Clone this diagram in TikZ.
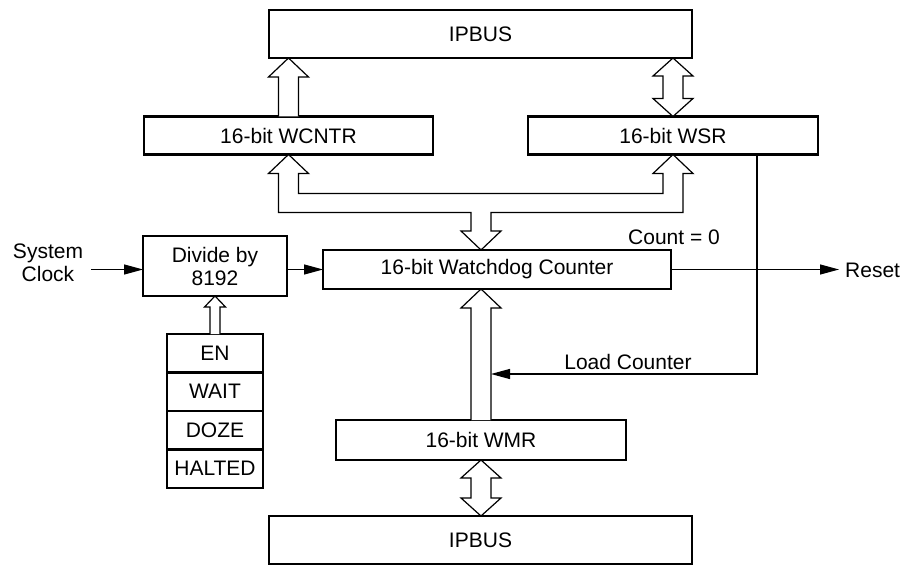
\documentclass[tikz,border=0pt]{standalone}
\usepackage{fontspec}
\setmainfont{Liberation Sans}
\usetikzlibrary{arrows.meta,calc}
\newcommand\hollowup[5]{% #1 base, #2 tip, #3 shaft half, #4 head half, #5 head length
  \draw[hollow] let \p1=(#1),\p2=(#2) in
    (\x1-#3pt,\y1) -- (\x1-#3pt,\y2-#5pt) -- (\x1-#4pt,\y2-#5pt) -- (\x1,\y2)
    -- (\x1+#4pt,\y2-#5pt) -- (\x1+#3pt,\y2-#5pt) -- (\x1+#3pt,\y1);}
\newcommand\hollowboth[5]{% #1 lower tip, #2 upper tip
  \draw[hollow] let \p1=(#1),\p2=(#2) in
    (\x1,\y1) -- (\x1-#4pt,\y1+#5pt) -- (\x1-#3pt,\y1+#5pt) -- (\x1-#3pt,\y2-#5pt)
    -- (\x1-#4pt,\y2-#5pt) -- (\x1,\y2) -- (\x1+#4pt,\y2-#5pt) -- (\x1+#3pt,\y2-#5pt)
    -- (\x1+#3pt,\y1+#5pt) -- (\x1+#4pt,\y1+#5pt) -- cycle;}
\begin{document}
\begin{tikzpicture}[x=1pt,y=-1pt,
  txt/.style={font=\fontsize{21}{23}\selectfont},
  box/.style={txt,draw,line width=2.4pt,inner sep=0pt,outer sep=0pt,minimum width=#1},
  hollow/.style={draw,line width=1.2pt,line join=miter,fill=white},
  arr/.style={line width=1.2pt,-{Triangle[length=19pt,width=10pt]}}]
\useasboundingbox (0,0) rectangle (906,567);
% boxes
\node[box=423,minimum height=48] (ipt) at (480.5,34) {IPBUS};
\node[box=289,minimum height=38] (wcntr) at (288.5,135.5) {16-bit WCNTR};
\node[box=290,minimum height=38] (wsr) at (673,135.5) {16-bit WSR};
\node[box=348,minimum height=39] (wd) at (497,269.5) {16-bit Watchdog Counter};
\node[box=144,minimum height=60,align=center] (div) at (215,266) {Divide by\\8192};
\node[box=96,minimum height=38.5] (en) at (215,353.25) {EN};
\node[box=96,minimum height=38.5] (wait) at (215,391.75) {WAIT};
\node[box=96,minimum height=38.5] (doze) at (215,430.25) {DOZE};
\node[box=96,minimum height=38.5] (halted) at (215,468.75) {HALTED};
\node[box=290,minimum height=40] (wmr) at (481,440) {16-bit WMR};
\node[box=423,minimum height=48] (ipb) at (480.5,540) {IPBUS};
% labels
\node[txt,align=center,inner sep=0pt,inner xsep=8pt] (sc) at (48,263) {System\\Clock};
\node[txt,inner sep=0pt] (cnt) at (674,237) {Count = 0};
\node[txt,inner sep=0pt] (lc) at (628,362) {Load Counter};
\node[txt,anchor=west,inner sep=0pt,inner xsep=6pt] (rst) at (839,270) {Reset};
\coordinate (lcturn) at (757,374);
\coordinate (lcend) at (491,374);
% hollow arrows
\hollowup{wcntr.north}{wcntr.north |- ipt.south}{10}{20}{19}
\hollowboth{wsr.north}{wsr.north |- ipt.south}{10}{20}{18}
\hollowboth{ipb.north -| wmr.south}{wmr.south}{10}{20}{18}
\hollowup{wmr.north}{wmr.north |- wd.south}{10}{20}{19}
\hollowup{en.north}{div.south}{5}{10.5}{11}
\draw[hollow] let \p1=(wcntr.south), \p2=(wsr.south), \p3=(wmr.north |- wd.north) in
  (\x3,\y3) -- (\x3-20pt,\y3+19pt) -- (\x3-10pt,\y3+19pt) -- (\x3-10pt,\y1-58pt)
  -- (\x1-10pt,\y1-58pt) -- (\x1-10pt,\y1-19pt) -- (\x1-20pt,\y1-19pt) -- (\x1,\y1)
  -- (\x1+20pt,\y1-19pt) -- (\x1+10pt,\y1-19pt) -- (\x1+10pt,\y1-39pt)
  -- (\x2-10pt,\y1-39pt) -- (\x2-10pt,\y2-19pt) -- (\x2-20pt,\y2-19pt) -- (\x2,\y2)
  -- (\x2+20pt,\y2-19pt) -- (\x2+10pt,\y2-19pt) -- (\x2+10pt,\y1-58pt)
  -- (\x3+10pt,\y1-58pt) -- (\x3+10pt,\y3+19pt) -- (\x3+20pt,\y3+19pt) -- cycle;
% signal arrows
\draw[arr] (sc.east |- wd.west) -- (div.west |- wd.west);
\draw[arr] (div.east |- wd.west) -- (wd.west);
\draw[arr] (wd.east) -- (wd.east -| rst.west);
\draw[arr] (wsr.south -| lcturn) -- (lcturn) -- (lcend);
\end{tikzpicture}
\end{document}
